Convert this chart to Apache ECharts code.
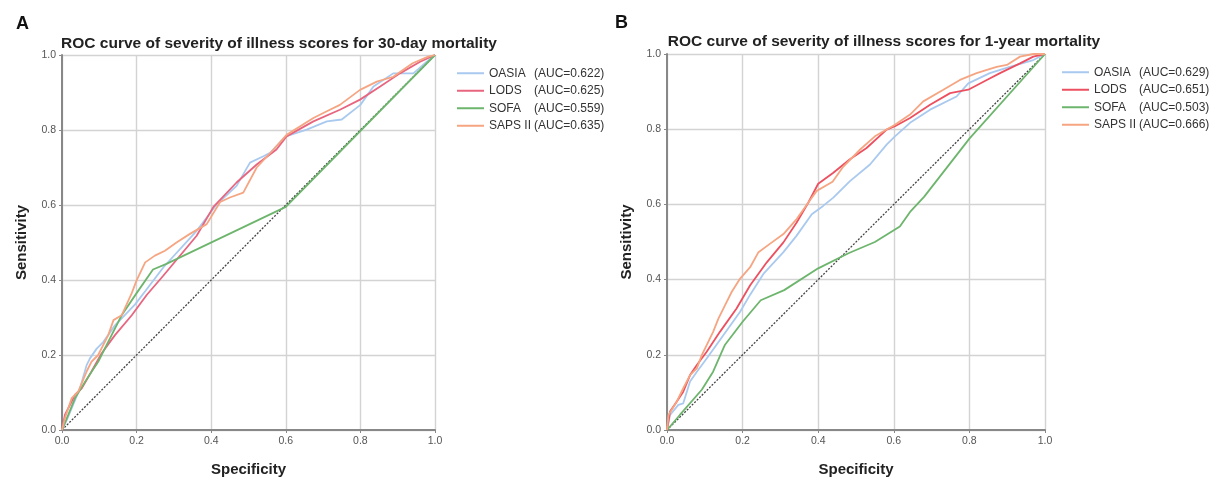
<!DOCTYPE html>
<html>
<head>
<meta charset="utf-8">
<script src="https://cdn.jsdelivr.net/npm/echarts@6/dist/echarts.min.js"></script>
<style>
html,body{margin:0;padding:0;background:#fff;}
#chart{width:1225px;height:482px;}
</style>
</head>
<body>
<div id="chart"></div>
<script>
// ---- data ----
const scoreNames = ['OASIA', 'LODS', 'SOFA', 'SAPS II'];
const aucA = ['0.622', '0.625', '0.559', '0.635'];
const aucB = ['0.629', '0.651', '0.503', '0.666'];
const ticks = [0, 0.2, 0.4, 0.6, 0.8, 1.0];
const titleA = 'ROC curve of severity of illness scores for 30-day mortality';
const titleB = 'ROC curve of severity of illness scores for 1-year mortality';
const xName = 'Specificity';
const yName = 'Sensitivity';
const reference = [[0, 0], [1, 1]];

// Panel A: 30-day mortality  [x, y]
const oasiaA = [[0,0],[0.013,0.027],[0.026,0.058],[0.048,0.111],[0.066,0.173],[0.075,0.191],[0.093,0.217],[0.111,0.235],[0.142,0.279],[0.196,0.335],[0.223,0.37],[0.272,0.434],[0.361,0.531],[0.415,0.602],[0.468,0.651],[0.504,0.713],[0.54,0.73],[0.558,0.739],[0.6,0.783],[0.656,0.801],[0.71,0.823],[0.75,0.828],[0.8,0.867],[0.835,0.916],[0.888,0.951],[0.915,0.951],[0.942,0.951],[0.978,0.982],[1,1]];
const lodsA = [[0,0],[0.008,0.041],[0.026,0.076],[0.035,0.094],[0.053,0.111],[0.079,0.156],[0.106,0.204],[0.142,0.253],[0.187,0.306],[0.227,0.36],[0.272,0.412],[0.361,0.518],[0.406,0.595],[0.468,0.66],[0.522,0.708],[0.575,0.748],[0.602,0.783],[0.674,0.823],[0.745,0.854],[0.799,0.881],[0.853,0.916],[0.906,0.951],[0.96,0.982],[1,1]];
const sofaA = [[0,0],[0.017,0.041],[0.035,0.085],[0.062,0.129],[0.097,0.182],[0.133,0.253],[0.16,0.306],[0.2,0.365],[0.244,0.428],[0.28,0.443],[0.6,0.595],[1,1]];
const sapsA = [[0,0],[0.008,0.032],[0.026,0.085],[0.044,0.103],[0.066,0.156],[0.079,0.182],[0.097,0.2],[0.124,0.253],[0.138,0.293],[0.16,0.306],[0.187,0.365],[0.2,0.399],[0.223,0.447],[0.249,0.465],[0.276,0.478],[0.307,0.5],[0.343,0.523],[0.388,0.549],[0.424,0.608],[0.45,0.62],[0.486,0.633],[0.522,0.7],[0.567,0.748],[0.602,0.787],[0.674,0.832],[0.71,0.85],[0.745,0.867],[0.799,0.907],[0.844,0.929],[0.888,0.942],[0.94,0.978],[0.98,0.995],[1,1]];

// Panel B: 1-year mortality  [x, y]
const oasiaB = [[0,0],[0.008,0.04],[0.03,0.067],[0.043,0.071],[0.061,0.129],[0.079,0.155],[0.105,0.19],[0.149,0.252],[0.193,0.314],[0.22,0.36],[0.255,0.415],[0.308,0.473],[0.343,0.517],[0.383,0.574],[0.413,0.596],[0.44,0.618],[0.484,0.662],[0.537,0.706],[0.581,0.759],[0.603,0.781],[0.643,0.817],[0.696,0.852],[0.766,0.887],[0.797,0.922],[0.854,0.949],[0.907,0.966],[0.969,0.984],[1,1]];
const lodsB = [[0,0],[0.008,0.049],[0.026,0.076],[0.043,0.102],[0.061,0.146],[0.079,0.173],[0.105,0.208],[0.14,0.261],[0.184,0.323],[0.22,0.385],[0.264,0.446],[0.308,0.499],[0.343,0.552],[0.374,0.605],[0.4,0.655],[0.44,0.684],[0.484,0.72],[0.528,0.75],[0.581,0.799],[0.603,0.808],[0.643,0.83],[0.696,0.865],[0.749,0.896],[0.797,0.905],[0.846,0.931],[0.881,0.949],[0.934,0.975],[0.969,0.993],[1,1]];
const sofaB = [[0,0],[0.034,0.04],[0.092,0.107],[0.122,0.155],[0.149,0.217],[0.153,0.226],[0.2,0.288],[0.248,0.345],[0.31,0.372],[0.4,0.43],[0.48,0.47],[0.55,0.5],[0.616,0.541],[0.643,0.58],[0.68,0.62],[0.8,0.775],[1,1]];
const sapsB = [[0,0],[0.004,0.04],[0.026,0.076],[0.043,0.111],[0.061,0.146],[0.079,0.164],[0.092,0.199],[0.105,0.226],[0.122,0.261],[0.136,0.296],[0.153,0.331],[0.171,0.367],[0.193,0.402],[0.22,0.433],[0.242,0.473],[0.272,0.495],[0.308,0.521],[0.343,0.561],[0.374,0.605],[0.396,0.636],[0.438,0.66],[0.466,0.7],[0.511,0.746],[0.55,0.781],[0.581,0.799],[0.603,0.812],[0.643,0.839],[0.678,0.874],[0.731,0.905],[0.775,0.931],[0.819,0.949],[0.872,0.966],[0.899,0.971],[0.934,0.993],[0.969,1.0],[1,1]];

const curvesA = [oasiaA, lodsA, sofaA, sapsA];
const curvesB = [oasiaB, lodsB, sofaB, sapsB];

// ---- styles ----
const colorsA = ['#a9c9ef', '#e8657f', '#6db56d', '#f6a582'];
const colorsB = ['#a9c9ef', '#ec5060', '#6db56d', '#f6a582'];
const FONT = '"Liberation Sans", Arial, sans-serif';

const chart = echarts.init(document.getElementById('chart'), null, {renderer: 'canvas'});

function makeAxes(gridIndex) {
  const common = {
    gridIndex: gridIndex,
    type: 'value', min: 0, max: 1, interval: 0.2,
    axisLine: {show: true, onZero: false, lineStyle: {color: '#888', width: 2}},
    axisTick: {show: true, length: 3, lineStyle: {color: '#888'}},
    axisLabel: {fontSize: 10.5, color: '#555', fontFamily: FONT, margin: 6,
      formatter: v => v.toFixed(1)},
    splitLine: {show: true, lineStyle: {color: '#d3d3d3', width: 1.4}},
    nameLocation: 'middle',
    nameTextStyle: {fontSize: 15, fontWeight: 'bold', color: '#222', fontFamily: FONT}
  };
  return {
    x: Object.assign({}, common, {name: xName, nameGap: 32}),
    y: Object.assign({}, common, {name: yName, nameGap: 33})
  };
}
const axA = makeAxes(0), axB = makeAxes(1);

const series = [];
const legendA = [], legendB = [];
[[curvesA, aucA, colorsA, 0, 'A', legendA], [curvesB, aucB, colorsB, 1, 'B', legendB]].forEach(cfg => {
  const [curves, aucs, colors, gi, panel, leg] = cfg;
  series.push({
    type: 'line', xAxisIndex: gi, yAxisIndex: gi, data: reference,
    symbol: 'none', silent: true, z: 1,
    lineStyle: {color: '#444', width: 1.3, type: [2, 1.5]}
  });
  curves.forEach((c, i) => {
    const nm = panel + '|' + scoreNames[i] + '|' + aucs[i];
    leg.push(nm);
    series.push({
      name: nm, type: 'line', xAxisIndex: gi, yAxisIndex: gi, data: c,
      symbol: 'none', z: 2 + i, color: colors[i],
      lineStyle: {color: colors[i], width: 1.8}
    });
  });
});

function legendCfg(data, left, top, nameW) {
  return {
    data: data, left: left, top: top, orient: 'vertical',
    icon: 'rect', itemWidth: 27, itemHeight: 2, itemGap: 3,
    selectedMode: false,
    formatter: n => {
      const p = n.split('|');
      return '{n|' + p[1] + '}{v|(AUC=' + p[2] + ')}';
    },
    textStyle: {
      fontFamily: FONT, fontSize: 12, color: '#333', lineHeight: 14.5,
      rich: {
        n: {width: nameW, fontSize: 12, fontFamily: FONT, color: '#333', lineHeight: 14.5},
        v: {fontSize: 12, fontFamily: FONT, color: '#333', lineHeight: 14.5}
      }
    }
  };
}

const option = {
  animation: false,
  backgroundColor: '#fff',
  title: [
    {text: 'A', left: 11, top: 10, textStyle: {fontSize: 18, fontWeight: 'bold', color: '#111', fontFamily: FONT}},
    {text: 'B', left: 610, top: 9, textStyle: {fontSize: 18, fontWeight: 'bold', color: '#111', fontFamily: FONT}},
    {text: titleA, left: 274, textAlign: 'center', top: 31, textStyle: {fontSize: 15.5, fontWeight: 'bold', color: '#222', fontFamily: FONT}},
    {text: titleB, left: 879, textAlign: 'center', top: 29, textStyle: {fontSize: 15.5, fontWeight: 'bold', color: '#222', fontFamily: FONT}}
  ],
  legend: [
    legendCfg(legendA, 452, 61, 45),
    legendCfg(legendB, 1057, 60, 45)
  ],
  grid: [
    {left: 62, top: 55, width: 373, height: 377, containLabel: false},
    {left: 667, top: 54, width: 378, height: 378, containLabel: false}
  ],
  xAxis: [axA.x, axB.x],
  yAxis: [axA.y, axB.y],
  series: series
};
chart.setOption(option);
</script>
</body>
</html>
